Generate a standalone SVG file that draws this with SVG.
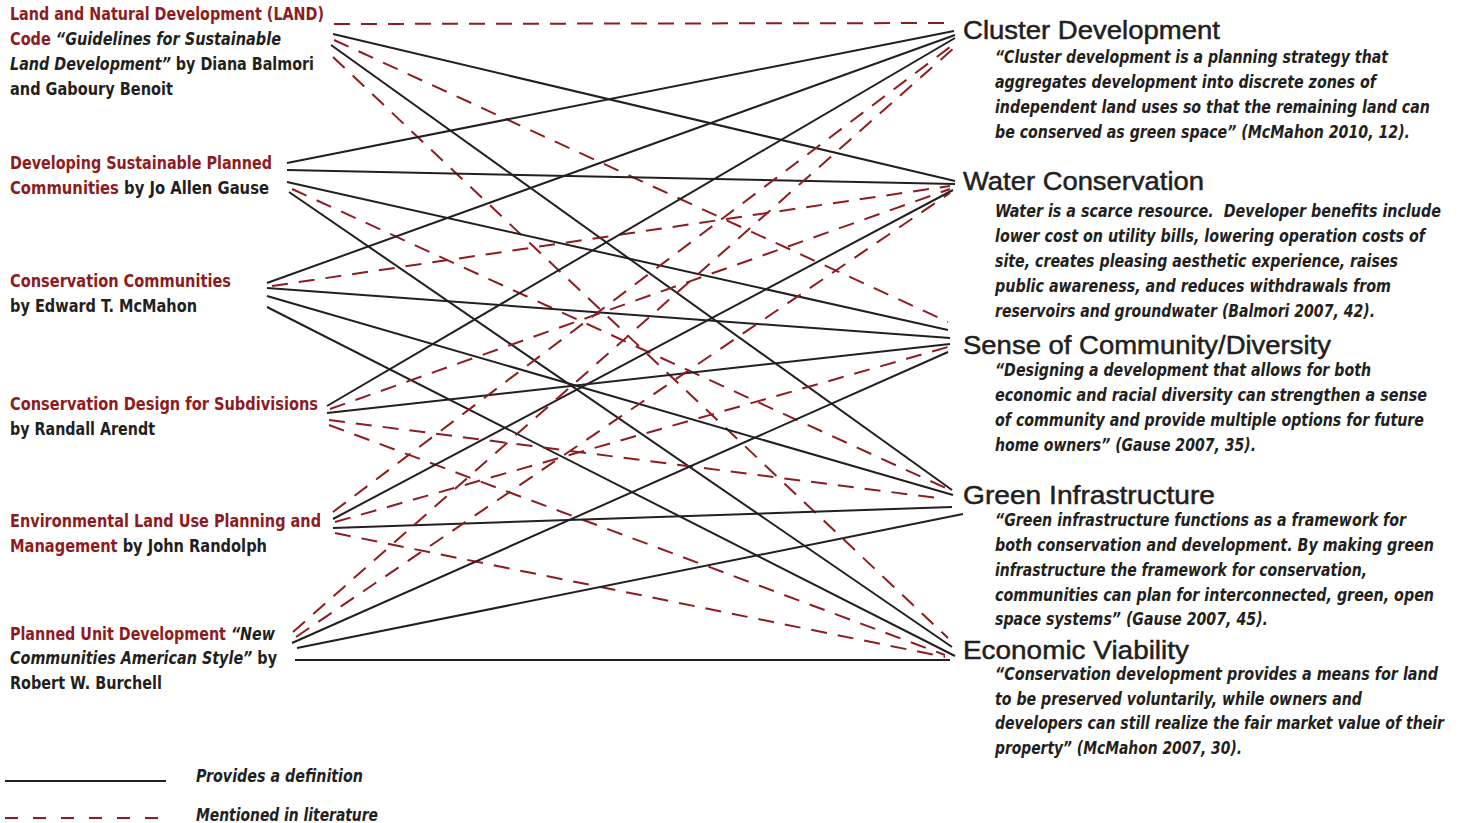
<svg xmlns="http://www.w3.org/2000/svg" width="1461" height="823" viewBox="0 0 1461 823">
  <style>
    .src { font-family: "Liberation Sans Narrow", "DejaVu Sans Condensed", "Liberation Sans", sans-serif; font-size: 18px; font-weight: bold; fill: #231f20; }
    .red { fill: #8e1b20; }
    .it { font-style: italic; }
    .head { font-family: "Liberation Sans", Arial, sans-serif; font-size: 26px; fill: #231f20; stroke: #231f20; stroke-width: 0.5; }
    .desc { font-family: "Liberation Sans Narrow", "DejaVu Sans Condensed", "Liberation Sans", sans-serif; font-size: 18px; font-weight: bold; font-style: italic; fill: #231f20; }
    .def { stroke: #231f20; stroke-width: 2; fill: none; }
    .lit { stroke: #8e1b20; stroke-width: 2; stroke-dasharray: 16 11; fill: none; }
  </style>

  <!-- connectors: solid = provides a definition, dashed = mentioned in literature -->
  <g id="connectors">
    <!-- LAND Code -->
    <line class="lit" x1="334" y1="24" x2="953" y2="23"/>
    <line class="def" x1="333" y1="34" x2="955" y2="181"/>
    <line class="lit" x1="334" y1="40" x2="948" y2="322"/>
    <line class="def" x1="331" y1="45" x2="952" y2="490"/>
    <line class="lit" x1="333" y1="57" x2="948" y2="638"/>
    <!-- Developing Sustainable Planned Communities -->
    <line class="def" x1="287" y1="163" x2="954" y2="31"/>
    <line class="def" x1="287" y1="170" x2="955" y2="184"/>
    <line class="def" x1="287" y1="182" x2="948" y2="330"/>
    <line class="lit" x1="292" y1="189" x2="950" y2="490"/>
    <line class="def" x1="289" y1="192" x2="952" y2="647"/>
    <!-- Conservation Communities -->
    <line class="def" x1="267" y1="283" x2="955" y2="35"/>
    <line class="lit" x1="272" y1="286" x2="950" y2="186"/>
    <line class="def" x1="267" y1="288" x2="950" y2="338"/>
    <line class="def" x1="267" y1="296" x2="953" y2="495"/>
    <line class="def" x1="267" y1="307" x2="955" y2="656"/>
    <!-- Conservation Design for Subdivisions -->
    <line class="def" x1="327" y1="406" x2="955" y2="38"/>
    <line class="lit" x1="330" y1="409" x2="950" y2="189"/>
    <line class="def" x1="327" y1="413" x2="950" y2="344"/>
    <line class="lit" x1="329" y1="420" x2="945" y2="499"/>
    <line class="lit" x1="329" y1="425" x2="945" y2="655"/>
    <!-- Environmental Land Use Planning and Management -->
    <line class="lit" x1="333" y1="512" x2="954" y2="44"/>
    <line class="def" x1="333" y1="519" x2="953" y2="190"/>
    <line class="lit" x1="335" y1="522" x2="948" y2="347"/>
    <line class="def" x1="333" y1="528" x2="952" y2="507"/>
    <line class="lit" x1="335" y1="533" x2="945" y2="657"/>
    <!-- Planned Unit Development -->
    <line class="lit" x1="293" y1="632" x2="954" y2="48"/>
    <line class="lit" x1="296" y1="637" x2="950" y2="193"/>
    <line class="def" x1="292" y1="643" x2="948" y2="352"/>
    <line class="def" x1="297" y1="648" x2="963" y2="514"/>
    <line class="def" x1="295" y1="660" x2="950" y2="660"/>
  </g>

  <!-- literature sources -->
  <g id="src-land">
    <text class="src" x="10" y="20" textLength="314" lengthAdjust="spacingAndGlyphs"><tspan class="red">Land and Natural Development (LAND)</tspan></text>
    <text class="src" x="10" y="45" textLength="271" lengthAdjust="spacingAndGlyphs"><tspan class="red">Code </tspan><tspan class="it">“Guidelines for Sustainable</tspan></text>
    <text class="src" x="10" y="70" textLength="304" lengthAdjust="spacingAndGlyphs"><tspan class="it">Land Development”</tspan> by Diana Balmori</text>
    <text class="src" x="10" y="95" textLength="163" lengthAdjust="spacingAndGlyphs">and Gaboury Benoit</text>
  </g>
  <g id="src-gause">
    <text class="src" x="10" y="169" textLength="262" lengthAdjust="spacingAndGlyphs"><tspan class="red">Developing Sustainable Planned</tspan></text>
    <text class="src" x="10" y="194" textLength="259" lengthAdjust="spacingAndGlyphs"><tspan class="red">Communities</tspan> by Jo Allen Gause</text>
  </g>
  <g id="src-mcmahon">
    <text class="src" x="10" y="287" textLength="221" lengthAdjust="spacingAndGlyphs"><tspan class="red">Conservation Communities</tspan></text>
    <text class="src" x="10" y="312" textLength="187" lengthAdjust="spacingAndGlyphs">by Edward T. McMahon</text>
  </g>
  <g id="src-arendt">
    <text class="src" x="10" y="410" textLength="308" lengthAdjust="spacingAndGlyphs"><tspan class="red">Conservation Design for Subdivisions</tspan></text>
    <text class="src" x="10" y="435" textLength="145" lengthAdjust="spacingAndGlyphs">by Randall Arendt</text>
  </g>
  <g id="src-randolph">
    <text class="src" x="10" y="527" textLength="311" lengthAdjust="spacingAndGlyphs"><tspan class="red">Environmental Land Use Planning and</tspan></text>
    <text class="src" x="10" y="552" textLength="257" lengthAdjust="spacingAndGlyphs"><tspan class="red">Management</tspan> by John Randolph</text>
  </g>
  <g id="src-burchell">
    <text class="src" x="10" y="640" textLength="265" lengthAdjust="spacingAndGlyphs"><tspan class="red">Planned Unit Development </tspan><tspan class="it">“New</tspan></text>
    <text class="src" x="10" y="664" textLength="267" lengthAdjust="spacingAndGlyphs"><tspan class="it">Communities American Style”</tspan> by</text>
    <text class="src" x="10" y="689" textLength="152" lengthAdjust="spacingAndGlyphs">Robert W. Burchell</text>
  </g>

  <!-- principles -->
  <g id="cluster-development">
    <text class="head" x="963" y="39" textLength="257" lengthAdjust="spacingAndGlyphs">Cluster Development</text>
    <text class="desc" x="995" y="63" textLength="393" lengthAdjust="spacingAndGlyphs">“Cluster development is a planning strategy that</text>
    <text class="desc" x="995" y="88" textLength="381" lengthAdjust="spacingAndGlyphs">aggregates development into discrete zones of</text>
    <text class="desc" x="995" y="113" textLength="435" lengthAdjust="spacingAndGlyphs">independent land uses so that the remaining land can</text>
    <text class="desc" x="995" y="138" textLength="415" lengthAdjust="spacingAndGlyphs">be conserved as green space” (McMahon 2010, 12).</text>
  </g>
  <g id="water-conservation">
    <text class="head" x="963" y="190" textLength="241" lengthAdjust="spacingAndGlyphs">Water Conservation</text>
    <text class="desc" x="995" y="217" textLength="446" lengthAdjust="spacingAndGlyphs" xml:space="preserve">Water is a scarce resource.  Developer benefits include</text>
    <text class="desc" x="995" y="242" textLength="430" lengthAdjust="spacingAndGlyphs">lower cost on utility bills, lowering operation costs of</text>
    <text class="desc" x="995" y="267" textLength="403" lengthAdjust="spacingAndGlyphs">site, creates pleasing aesthetic experience, raises</text>
    <text class="desc" x="995" y="292" textLength="396" lengthAdjust="spacingAndGlyphs">public awareness, and reduces withdrawals from</text>
    <text class="desc" x="995" y="317" textLength="380" lengthAdjust="spacingAndGlyphs">reservoirs and groundwater (Balmori 2007, 42).</text>
  </g>
  <g id="sense-of-community">
    <text class="head" x="963" y="354" textLength="368" lengthAdjust="spacingAndGlyphs">Sense of Community/Diversity</text>
    <text class="desc" x="995" y="376" textLength="376" lengthAdjust="spacingAndGlyphs">“Designing a development that allows for both</text>
    <text class="desc" x="995" y="401" textLength="432" lengthAdjust="spacingAndGlyphs">economic and racial diversity can strengthen a sense</text>
    <text class="desc" x="995" y="426" textLength="429" lengthAdjust="spacingAndGlyphs">of community and provide multiple options for future</text>
    <text class="desc" x="995" y="451" textLength="261" lengthAdjust="spacingAndGlyphs">home owners” (Gause 2007, 35).</text>
  </g>
  <g id="green-infrastructure">
    <text class="head" x="963" y="504" textLength="252" lengthAdjust="spacingAndGlyphs">Green Infrastructure</text>
    <text class="desc" x="995" y="526" textLength="411" lengthAdjust="spacingAndGlyphs">“Green infrastructure functions as a framework for</text>
    <text class="desc" x="995" y="551" textLength="439" lengthAdjust="spacingAndGlyphs">both conservation and development. By making green</text>
    <text class="desc" x="995" y="576" textLength="372" lengthAdjust="spacingAndGlyphs">infrastructure the framework for conservation,</text>
    <text class="desc" x="995" y="601" textLength="439" lengthAdjust="spacingAndGlyphs">communities can plan for interconnected, green, open</text>
    <text class="desc" x="995" y="625" textLength="273" lengthAdjust="spacingAndGlyphs">space systems” (Gause 2007, 45).</text>
  </g>
  <g id="economic-viability">
    <text class="head" x="963" y="659" textLength="226" lengthAdjust="spacingAndGlyphs">Economic Viability</text>
    <text class="desc" x="995" y="680" textLength="443" lengthAdjust="spacingAndGlyphs">“Conservation development provides a means for land</text>
    <text class="desc" x="995" y="705" textLength="367" lengthAdjust="spacingAndGlyphs">to be preserved voluntarily, while owners and</text>
    <text class="desc" x="995" y="729" textLength="449" lengthAdjust="spacingAndGlyphs">developers can still realize the fair market value of their</text>
    <text class="desc" x="995" y="754" textLength="247" lengthAdjust="spacingAndGlyphs">property” (McMahon 2007, 30).</text>
  </g>

  <!-- key -->
  <g id="legend">
    <line class="def" x1="5" y1="781" x2="166" y2="781"/>
    <text class="desc" x="196" y="782" textLength="167" lengthAdjust="spacingAndGlyphs">Provides a definition</text>
    <line class="lit" x1="5" y1="818" x2="160" y2="818" style="stroke-dasharray: 13 15"/>
    <text class="desc" x="196" y="821" textLength="182" lengthAdjust="spacingAndGlyphs">Mentioned in literature</text>
  </g>
</svg>
